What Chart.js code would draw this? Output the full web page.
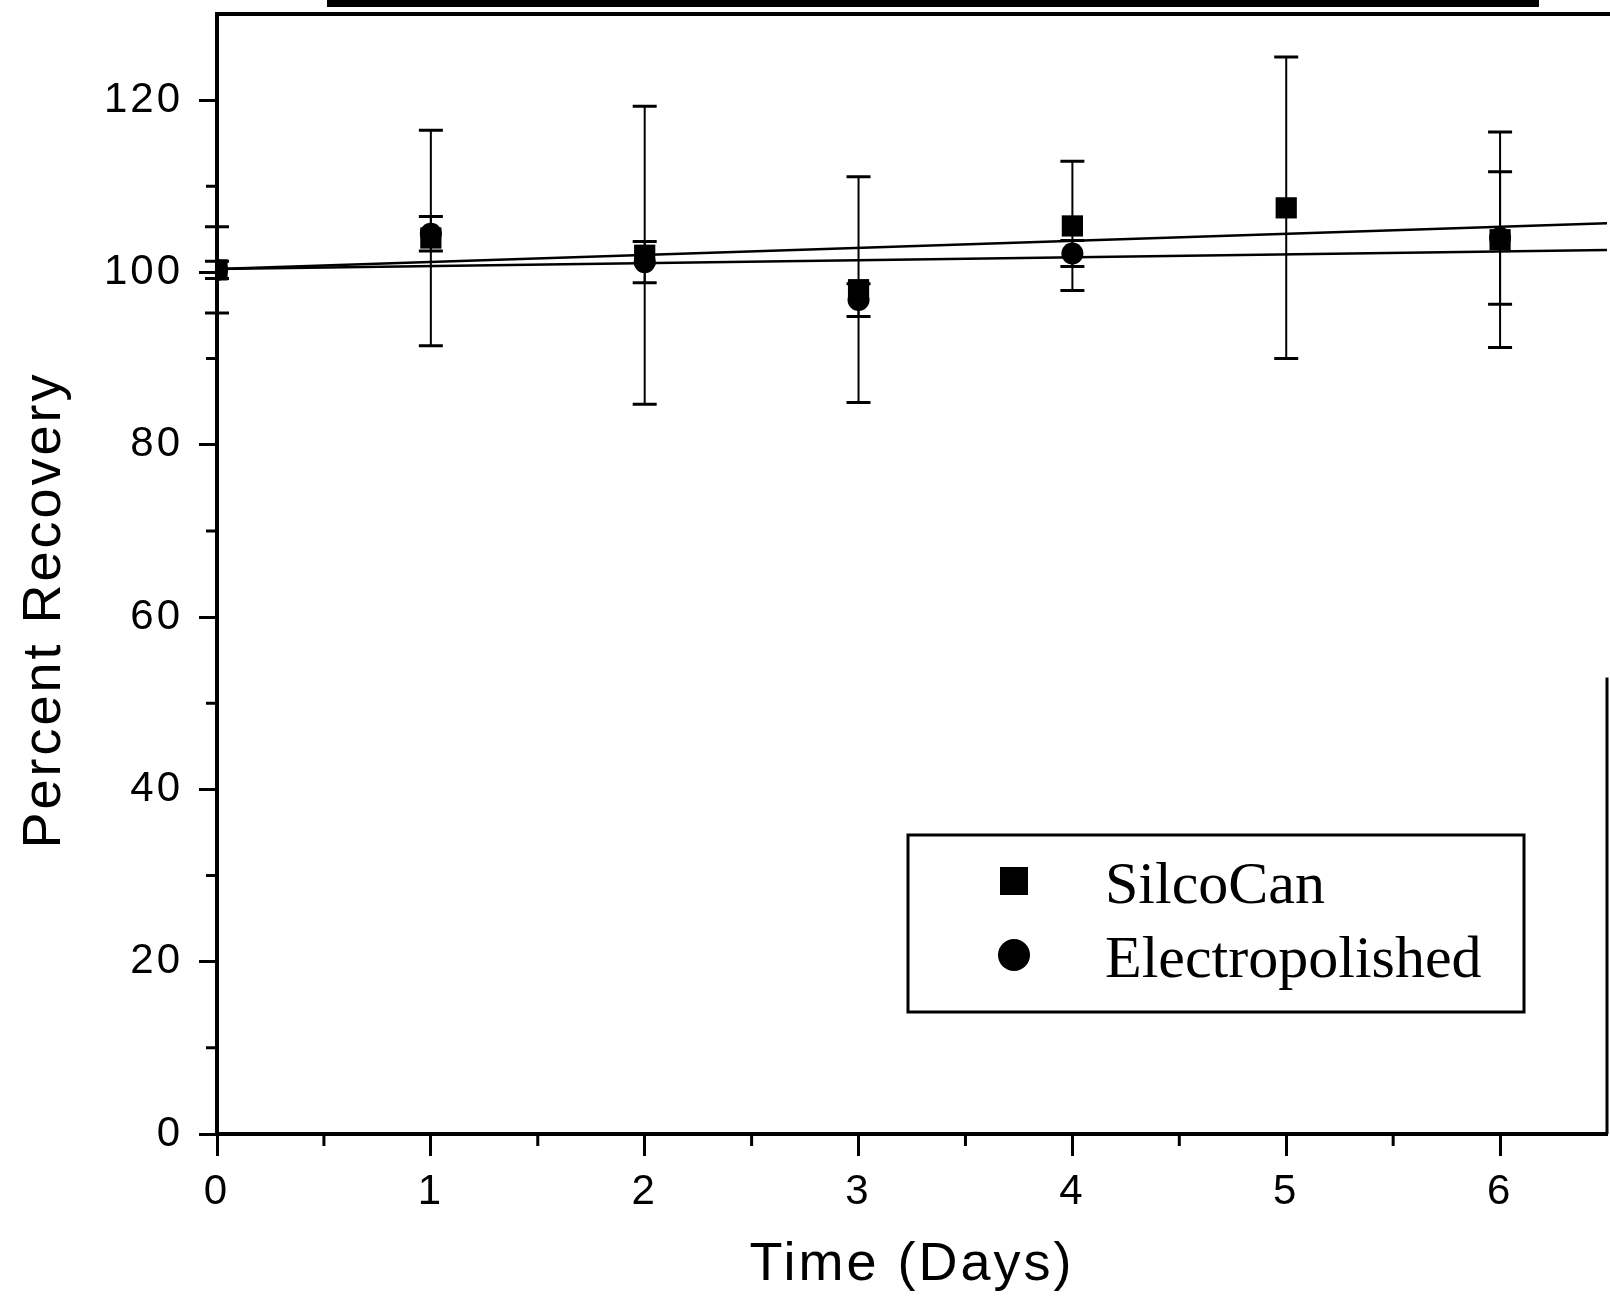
<!DOCTYPE html>
<html>
<head>
<meta charset="utf-8">
<title>Percent Recovery vs Time</title>
<script src="https://cdn.jsdelivr.net/npm/chart.js@4/dist/chart.umd.min.js"></script>
<style>
  html, body { margin: 0; padding: 0; background: #fff; }
  #chart { display: block; }
</style>
</head>
<body>
<canvas id="chart" width="1610" height="1298"></canvas>
<script>
// days sampled
const days = [0, 1, 2, 3, 4, 5, 6];

// SilcoCan canister (squares)
const silcoCan = [100.3, 104.0, 102.0, 98.0, 105.4, 107.5, 103.8];
const silcoCanErr = [5.0, 12.5, 17.3, 13.1, 7.5, 17.5, 12.5];

// Electropolished canister (circles), no point at day 5
const electropolished = [100.3, 104.5, 101.2, 96.8, 102.2, null, 104.0];
const electropolishedErr = [1.0, 2.0, 2.4, 1.9, 1.5, null, 7.7];

// fitted lines (end points)
const fitDays = [0, 6.5];
const silcoCanFit = [100.4, 105.7];
const electropolishedFit = [100.4, 102.6];

// axis ticks
const xTicks = [0, 1, 2, 3, 4, 5, 6];
const xMinorTicks = [0.5, 1.5, 2.5, 3.5, 4.5, 5.5];
const yTicks = [0, 20, 40, 60, 80, 100, 120];
const yMinorTicks = [10, 30, 50, 70, 90, 110];

function toPoints(xs, ys, errs) {
  const pts = [];
  xs.forEach((x, i) => {
    if (ys[i] === null) return;
    pts.push({ x: x, y: ys[i], err: errs ? errs[i] : null });
  });
  return pts;
}

// vertical error bars with caps, under the markers
const errorBars = {
  id: 'errorBars',
  beforeDatasetsDraw(chart) {
    const ctx = chart.ctx;
    const xs = chart.scales.x, ys = chart.scales.y;
    ctx.save();
    ctx.strokeStyle = '#000';
    chart.data.datasets.forEach(ds => {
      ds.data.forEach(p => {
        if (!p.err) return;
        const px = xs.getPixelForValue(p.x);
        const top = ys.getPixelForValue(p.y + p.err);
        const bot = ys.getPixelForValue(p.y - p.err);
        ctx.lineWidth = 2;
        ctx.beginPath();
        ctx.moveTo(px, top);
        ctx.lineTo(px, bot);
        ctx.stroke();
        ctx.lineWidth = 3;
        ctx.beginPath();
        ctx.moveTo(px - 12, top); ctx.lineTo(px + 12, top);
        ctx.moveTo(px - 12, bot); ctx.lineTo(px + 12, bot);
        ctx.stroke();
      });
    });
    ctx.restore();
  }
};

// spaced lettering like the scanned figure
const spacing = {
  id: 'spacing',
  beforeDraw(chart) { chart.ctx.letterSpacing = '3px'; },
  afterDraw(chart) { chart.ctx.letterSpacing = '0px'; }
};

// top/right frame, minor ticks, scan bar on top
const frame = {
  id: 'frame',
  afterDraw(chart) {
    const ctx = chart.ctx;
    const a = chart.chartArea;
    const xs = chart.scales.x, ys = chart.scales.y;
    ctx.save();
    ctx.strokeStyle = '#000';
    ctx.fillStyle = '#000';
    ctx.lineWidth = 4;
    ctx.beginPath();
    ctx.moveTo(a.left - 2, a.top);
    ctx.lineTo(a.right + 4, a.top);
    ctx.stroke();
    ctx.lineWidth = 3;
    ctx.beginPath();
    ctx.moveTo(a.right, ys.getPixelForValue(53));
    ctx.lineTo(a.right, a.bottom);
    ctx.stroke();
    ctx.fillRect(a.left + 110, 0, 1212, 7);
    ctx.lineWidth = 3;
    ctx.beginPath();
    yMinorTicks.forEach(v => {
      const py = ys.getPixelForValue(v);
      ctx.moveTo(a.left, py);
      ctx.lineTo(a.left - 11, py);
    });
    xMinorTicks.forEach(v => {
      const px = xs.getPixelForValue(v);
      ctx.moveTo(px, a.bottom);
      ctx.lineTo(px, a.bottom + 12);
    });
    ctx.stroke();
    ctx.restore();
  }
};

// boxed legend inside the plot
const boxLegend = {
  id: 'boxLegend',
  afterDraw(chart) {
    const ctx = chart.ctx;
    const a = chart.chartArea;
    const left = a.left + 691, top = a.top + 821, w = 616, h = 177;
    ctx.save();
    ctx.letterSpacing = '0px';
    ctx.strokeStyle = '#000';
    ctx.fillStyle = '#000';
    ctx.lineWidth = 3;
    ctx.strokeRect(left, top, w, h);
    ctx.font = '60px "Liberation Serif", "Times New Roman", serif';
    ctx.textBaseline = 'alphabetic';
    ctx.textAlign = 'left';
    const items = chart.data.datasets.filter(ds => ds.inLegend);
    items.forEach((ds, i) => {
      const cy = top + 46 + i * 74;
      const cx = left + 106;
      if (ds.pointStyle === 'rect') {
        ctx.fillRect(cx - 14, cy - 14, 28, 28);
      } else {
        ctx.beginPath();
        ctx.arc(cx, cy, 16, 0, Math.PI * 2);
        ctx.fill();
      }
      ctx.fillText(ds.label, left + 197, cy + 22);
    });
    ctx.restore();
  }
};

Chart.defaults.font.family = '"Liberation Sans", Arial, sans-serif';
Chart.defaults.color = '#000';

new Chart(document.getElementById('chart'), {
  type: 'scatter',
  data: {
    datasets: [
      {
        label: 'SilcoCan',
        inLegend: true,
        data: toPoints(days, silcoCan, silcoCanErr),
        pointStyle: 'rect',
        pointRadius: 15,
        pointBorderWidth: 0,
        backgroundColor: '#000',
        borderColor: '#000',
        order: 1
      },
      {
        label: 'Electropolished',
        inLegend: true,
        data: toPoints(days, electropolished, electropolishedErr),
        pointStyle: 'circle',
        pointRadius: 11,
        pointBorderWidth: 0,
        backgroundColor: '#000',
        borderColor: '#000',
        order: 0
      },
      {
        label: 'SilcoCan fit',
        data: toPoints(fitDays, silcoCanFit),
        showLine: true,
        pointRadius: 0,
        borderColor: '#000',
        borderWidth: 2.5,
        order: 2
      },
      {
        label: 'Electropolished fit',
        data: toPoints(fitDays, electropolishedFit),
        showLine: true,
        pointRadius: 0,
        borderColor: '#000',
        borderWidth: 2.5,
        order: 3
      }
    ]
  },
  options: {
    responsive: false,
    animation: false,
    events: [],
    layout: { autoPadding: false, padding: { top: 14, right: 3, left: 0, bottom: 0 } },
    plugins: {
      legend: { display: false },
      tooltip: { enabled: false }
    },
    scales: {
      x: {
        type: 'linear',
        min: 0,
        max: 6.5,
        afterBuildTicks: s => { s.ticks = xTicks.map(v => ({ value: v })); },
        afterFit: s => { s.height = 164; s.paddingLeft = 0; s.paddingRight = 0; },
        grid: { drawOnChartArea: false, tickLength: 22, tickWidth: 3, tickColor: '#000' },
        border: { display: true, color: '#000', width: 4 },
        ticks: { color: '#000', font: { size: 42 }, padding: 11, maxRotation: 0, autoSkip: false },
        title: {
          display: true,
          text: 'Time (Days)',
          color: '#000',
          font: { size: 54 },
          padding: { top: 0, bottom: 0 }
        }
      },
      y: {
        type: 'linear',
        min: 0,
        max: 130,
        afterBuildTicks: s => { s.ticks = yTicks.map(v => ({ value: v })); },
        afterFit: s => { s.width = 217; s.paddingTop = 0; s.paddingBottom = 0; },
        grid: { drawOnChartArea: false, tickLength: 18, tickWidth: 3, tickColor: '#000' },
        border: { display: true, color: '#000', width: 4 },
        ticks: { color: '#000', font: { size: 42 }, padding: 16, autoSkip: false },
        title: {
          display: true,
          text: 'Percent Recovery' + '\u00a0'.repeat(4),
          color: '#000',
          font: { size: 54 },
          padding: { top: 13, bottom: 0 }
        }
      }
    }
  },
  plugins: [spacing, errorBars, frame, boxLegend]
});
</script>
</body>
</html>
